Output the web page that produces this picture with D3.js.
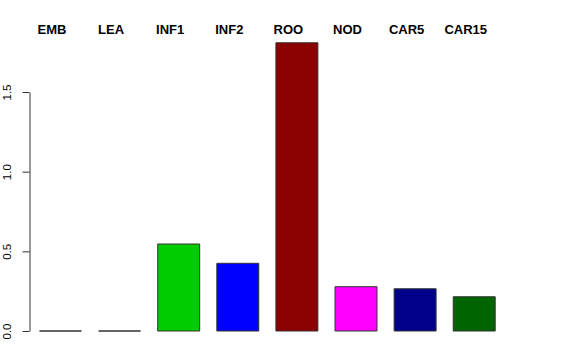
<!DOCTYPE html>
<html>
<head>
<meta charset="utf-8">
<script src="https://cdn.jsdelivr.net/npm/d3@7"></script>
<style>
  body { margin: 0; background: #fff; }
  svg { display: block; font-family: "Liberation Sans", Arial, sans-serif; }
</style>
</head>
<body>
<div id="chart-area"></div>
<script>
// data
var categories = ["EMB", "LEA", "INF1", "INF2", "ROO", "NOD", "CAR5", "CAR15"]
var values = [0, 0, 0.546, 0.425, 1.809, 0.278, 0.265, 0.215]
var colors = ["#000000", "#000000", "#00CD00", "#0000FF", "#8B0000", "#FF00FF", "#00008B", "#006400"]
var yTicks = [0, 0.5, 1, 1.5]

var svg = d3.select("#chart-area")
  .append("svg")
  .attr("width", 576)
  .attr("height", 360)

var x = d3.scaleBand()
  .domain(categories)
  .range([39, 494.7])
  .paddingInner(0.29)
  .paddingOuter(0)

var y = d3.scaleLinear()
  .domain([0, 1.5])
  .range([331, 92])

// bars drawn as closed paths so zero-height bars still show their outline
svg.selectAll("path.bar")
  .data(categories)
  .enter()
  .append("path")
  .attr("class", "bar")
  .attr("d", function(d, i) {
    var p = d3.path()
    p.rect(x(d) + 0.5, y(values[i]), x.bandwidth(), y(0) - y(values[i]))
    return p.toString()
  })
  .attr("fill", function(d, i) { return colors[i] })
  .attr("stroke", "#333")
  .attr("stroke-width", 1)

// y axis
var yAxis = d3.axisLeft(y)
  .tickValues(yTicks)
  .tickFormat(d3.format(".1f"))
  .tickSize(7)
  .tickSizeOuter(0)

var gy = svg.append("g")
  .attr("transform", "translate(29.5,0)")
  .call(yAxis)

gy.select(".domain").attr("stroke", "#333")
gy.selectAll(".tick line").attr("stroke", "#333")
gy.selectAll(".tick text")
  .attr("transform", "rotate(-90)")
  .attr("x", 0)
  .attr("y", -19)
  .attr("dy", "0")
  .attr("text-anchor", "middle")
  .attr("font-size", 11.5)
  .attr("font-family", "Liberation Sans, Arial, sans-serif")
  .attr("fill", "#000")

// category labels along the top
svg.selectAll("text.lab")
  .data(categories)
  .enter()
  .append("text")
  .attr("class", "lab")
  .attr("x", function(d) { return x(d) + x.bandwidth() / 2 - 8 })
  .attr("y", 34)
  .attr("text-anchor", "middle")
  .attr("font-size", 13)
  .attr("font-weight", "bold")
  .text(function(d) { return d })
</script>
</body>
</html>
